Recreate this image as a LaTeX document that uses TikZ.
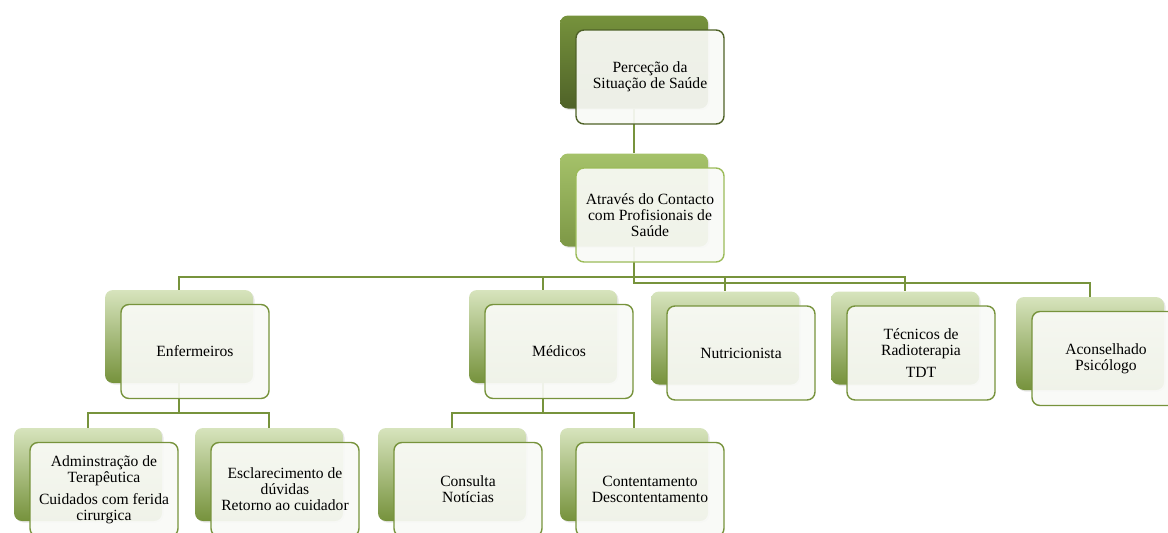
\documentclass[tikz,border=0pt]{standalone}
\usepackage{fontspec}
\setmainfont{Liberation Serif}
\usetikzlibrary{positioning,backgrounds,shadows}

\definecolor{lineclr}{RGB}{119,147,60}
\definecolor{darkol}{RGB}{79,98,40}
\definecolor{midol}{RGB}{118,146,60}
\definecolor{brightgr}{RGB}{155,187,89}
\definecolor{palegr}{RGB}{215,228,189}
\definecolor{frontfill}{RGB}{249,250,246}

\begin{document}
\begin{tikzpicture}[x=1pt, y=-1pt,
    back node/.style={rectangle, rounded corners=8pt, minimum width=148pt, minimum height=93pt,
                      top color=palegr, bottom color=midol,
                      drop shadow={opacity=0.18, shadow xshift=1.5pt, shadow yshift=-1.5pt}},
    front node/.style={rectangle, rounded corners=8pt, minimum width=148pt, minimum height=94pt,
                       draw=lineclr, line width=1.4pt, fill=frontfill, fill opacity=0.93, text opacity=1,
                       align=center, font=\fontsize{15.6}{16}\selectfont},
    link/.style={draw=lineclr, line width=2pt}]

  \path[use as bounding box, clip] (0,0) rectangle (1168,533);

  % back boxes
  \node[back node, top color=midol, bottom color=darkol] (per) at (634,62) {};
  \node[back node, top color=brightgr!90, bottom color=midol!95] (atr) at (634,200) {};
  \node[back node] (enf) at (179,336.5) {};
  \node[back node] (med) at (543,336.5) {};
  \node[back node] (nut) at (725,338) {};
  \node[back node] (tec) at (905,338) {};
  \node[back node] (aco) at (1090,343.5) {};
  \node[back node] (adm) at (88,474.5) {};
  \node[back node] (esc) at (269,474.5) {};
  \node[back node] (con) at (452,474.5) {};
  \node[back node] (cnt) at (634,474.5) {};

  % front boxes
  \node[front node, draw=darkol] (perF) at ([shift={(16,15)}]per.center) {Perceção da\\Situação de Saúde};
  \node[front node, draw=brightgr] (atrF) at ([shift={(16,15)}]atr.center) {Através do Contacto\\com Profisionais de\\Saúde};
  \node[front node] (enfF) at ([shift={(16,15)}]enf.center) {Enfermeiros};
  \node[front node] (medF) at ([shift={(16,15)}]med.center) {Médicos};
  \node[front node] (nutF) at ([shift={(16,15)}]nut.center) {Nutricionista};
  \node[front node] (tecF) at ([shift={(16,15)}]tec.center) {Técnicos de\\Radioterapia\\[6pt]TDT};
  \node[front node] (acoF) at ([shift={(16,15)}]aco.center) {Aconselhado\\Psicólogo};
  \node[front node] (admF) at ([shift={(16,15)}]adm.center) {Adminstração de\\Terapêutica\\[6pt]Cuidados com ferida\\cirurgica};
  \node[front node] (escF) at ([shift={(16,15)}]esc.center) {Esclarecimento de\\dúvidas\\Retorno ao cuidador};
  \node[front node] (conF) at ([shift={(16,15)}]con.center) {Consulta\\Notícias};
  \node[front node] (cntF) at ([shift={(16,15)}]cnt.center) {Contentamento\\Descontentamento};

  \coordinate (hubA) at (634,277);
  \coordinate (hubB) at (634,283);
  \coordinate (hubE) at (179,413);
  \coordinate (hubM) at (543,413);

  \begin{scope}[on background layer]
    \path[link] (per.south) -- (atr.north);
    \path[link] (atr.south) -- (hubB) -| (aco.north);
    \path[link] (enf.north) |- (hubA) -| (tec.north);
    \path[link] (hubA) -| (med.north);
    \path[link] (hubA) -| (nut.north);
    \path[link] (enf.south) -- (hubE);
    \path[link] (adm.north) |- (hubE) -| (esc.north);
    \path[link] (med.south) -- (hubM);
    \path[link] (con.north) |- (hubM) -| (cnt.north);
  \end{scope}

\end{tikzpicture}
\end{document}
